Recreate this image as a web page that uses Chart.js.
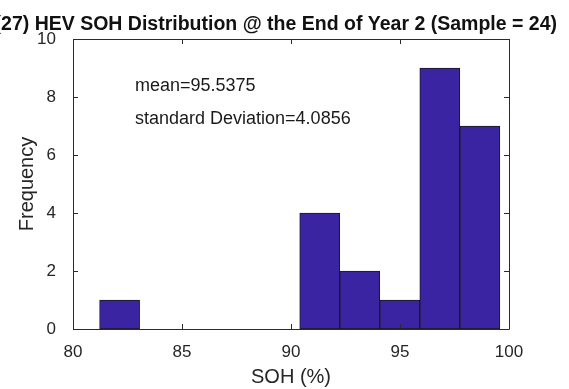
<!DOCTYPE html>
<html>
<head>
<meta charset="utf-8">
<script src="https://cdn.jsdelivr.net/npm/chart.js@4.4.1/dist/chart.umd.min.js"></script>
<style>
  html, body { margin: 0; padding: 0; background: #fff; }
  #wrap { width: 569px; height: 389px; }
</style>
</head>
<body>
<div id="wrap"><canvas id="histChart"></canvas></div>
<script>
// SOH histogram, 10 equal bins between min and max sample
const binCenters = [82.138, 83.974, 85.810, 87.646, 89.482, 91.318, 93.154, 94.990, 96.826, 98.662];
const binCounts = [1, 0, 0, 0, 0, 4, 2, 1, 9, 7];
const xTicks = [80, 85, 90, 95, 100];
const yTicks = [0, 2, 4, 6, 8, 10];
const titleText = '(27) HEV SOH Distribution @ the End of Year 2 (Sample = 24)';
const statsLines = ['mean=95.5375', 'standard Deviation=4.0856'];

const FONT = '"Liberation Sans", Arial, sans-serif';
const AXIS_COLOR = '#2b2b2b';

// MATLAB-style box with inward ticks on all four sides
const boxAxes = {
  id: 'boxAxes',
  afterDatasetsDraw(chart) {
    const { ctx, chartArea: a, scales: { x, y } } = chart;
    const len = 5;
    ctx.save();
    ctx.strokeStyle = AXIS_COLOR;
    ctx.lineWidth = 1;
    ctx.beginPath();
    ctx.rect(Math.round(a.left) + 0.5, Math.round(a.top) + 0.5,
             Math.round(a.right - a.left), Math.round(a.bottom - a.top));
    xTicks.forEach(v => {
      const px = Math.round(x.getPixelForValue(v)) + 0.5;
      ctx.moveTo(px, a.bottom); ctx.lineTo(px, a.bottom - len);
      ctx.moveTo(px, a.top); ctx.lineTo(px, a.top + len);
    });
    yTicks.forEach(v => {
      const py = Math.round(y.getPixelForValue(v)) + 0.5;
      ctx.moveTo(a.left, py); ctx.lineTo(a.left + len, py);
      ctx.moveTo(a.right, py); ctx.lineTo(a.right - len, py);
    });
    ctx.stroke();
    ctx.restore();
  }
};

// title (runs past the left edge) and the stats text inside the axes
const labels = {
  id: 'labels',
  afterDraw(chart) {
    const { ctx } = chart;
    ctx.save();
    ctx.fillStyle = '#111';
    ctx.font = 'bold 19.5px ' + FONT;
    ctx.textAlign = 'right';
    ctx.textBaseline = 'alphabetic';
    ctx.fillText(titleText, 557, 30);
    ctx.fillStyle = '#1a1a1a';
    ctx.font = '18px ' + FONT;
    ctx.textAlign = 'left';
    ctx.textBaseline = 'middle';
    ctx.fillText(statsLines[0], 135, 86);
    ctx.fillText(statsLines[1], 135, 119);
    ctx.restore();
  }
};

new Chart(document.getElementById('histChart'), {
  type: 'bar',
  data: {
    datasets: [{
      data: binCenters.map((c, i) => ({ x: c, y: binCounts[i] })),
      backgroundColor: '#3b24a2',
      borderColor: '#1a1a1a',
      borderWidth: 1,
      borderSkipped: false,
      barPercentage: 1,
      categoryPercentage: 1
    }]
  },
  options: {
    responsive: true,
    maintainAspectRatio: false,
    animation: false,
    layout: { padding: { top: 39, right: 60, left: 0, bottom: 0 } },
    plugins: { legend: { display: false }, tooltip: { enabled: false } },
    scales: {
      x: {
        type: 'linear',
        offset: false,
        min: 80, max: 100,
        afterBuildTicks: s => { s.ticks = xTicks.map(v => ({ value: v })); },
        afterFit: s => { s.height = 60; },
        grid: { display: false },
        border: { display: false },
        ticks: { color: '#262626', font: { family: FONT, size: 17 }, padding: 5, maxRotation: 0 },
        title: { display: true, text: 'SOH (%)', color: '#262626', font: { family: FONT, size: 20 }, padding: 0 }
      },
      y: {
        min: 0, max: 10,
        afterBuildTicks: s => { s.ticks = yTicks.map(v => ({ value: v })); },
        afterFit: s => { s.width = 73; },
        grid: { display: false },
        border: { display: false },
        ticks: { color: '#262626', font: { family: FONT, size: 17 }, padding: 9 },
        title: { display: true, text: 'Frequency', color: '#262626', font: { family: FONT, size: 20 }, padding: { top: 15, bottom: 0 } }
      }
    }
  },
  plugins: [boxAxes, labels]
});
</script>
</body>
</html>
